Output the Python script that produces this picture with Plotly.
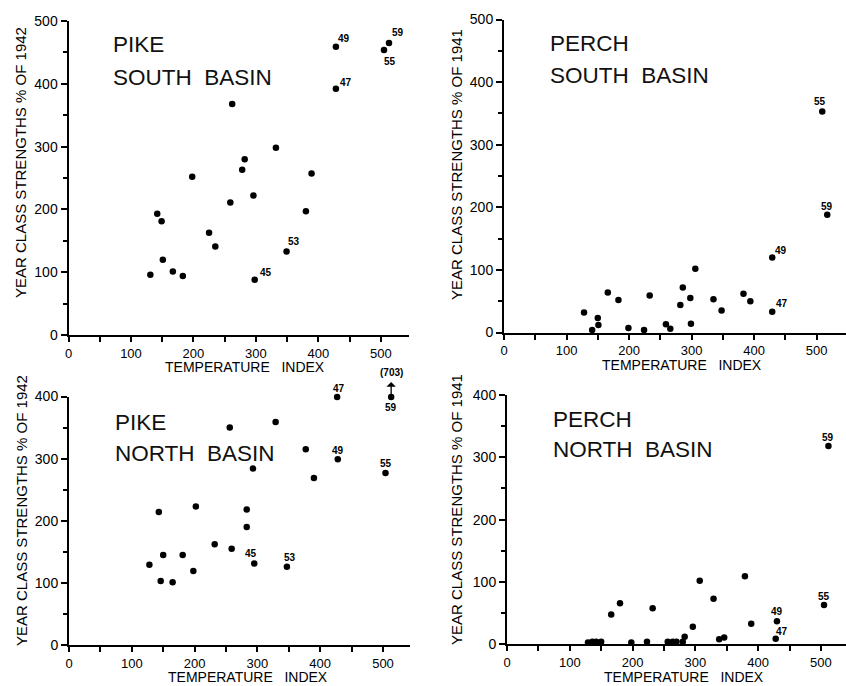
import plotly.graph_objects as go

W, H = 846, 686

# ---------------- data ----------------
pike_south_x = [131, 142, 149, 151, 167, 183, 198, 225, 235, 259, 262, 278, 282, 296, 298, 332, 349, 380, 389, 428, 428, 505, 513]
pike_south_y = [96, 193, 181, 120, 101, 94, 252, 163, 141, 211, 368, 263, 280, 222, 88, 298, 133, 197, 257, 459, 392, 454, 465]
pike_south_lab = {14: "45", 16: "53", 19: "49", 20: "47", 21: "55", 22: "59"}

perch_south_x = [128, 141, 150, 151, 166, 183, 199, 224, 233, 259, 266, 282, 286, 298, 299, 306, 335, 348, 383, 394, 429, 429, 509, 517]
perch_south_y = [32, 4, 23, 12, 64, 52, 7, 4, 59, 13, 6, 44, 72, 55, 14, 102, 53, 35, 62, 50, 120, 33, 353, 188]
perch_south_lab = {20: "49", 21: "47", 22: "55", 23: "59"}

# 1959 value (703) is off scale and plotted at the top of the axis
pike_north_x = [128, 143, 146, 150, 165, 181, 198, 202, 232, 256, 259, 283, 283, 293, 295, 329, 347, 377, 390, 427, 428, 504, 513]
pike_north_y = [129, 214, 103, 145, 101, 145, 119, 223, 162, 350, 155, 218, 190, 284, 131, 359, 126, 315, 269, 399, 299, 277, 399]
pike_north_lab = {14: "45", 16: "53", 19: "47", 20: "49", 21: "55", 22: "59"}
pike_north_offscale_index = 22
pike_north_offscale_text = "(703)"

perch_north_x = [129, 136, 142, 150, 166, 180, 198, 223, 232, 256, 264, 270, 280, 283, 296, 307, 329, 338, 346, 379, 389, 430, 428, 505, 512]
perch_north_y = [3, 4, 4, 4, 48, 66, 3, 4, 58, 4, 4, 4, 4, 12, 28, 102, 73, 8, 11, 109, 33, 37, 9, 63, 318]
perch_north_lab = {21: "49", 22: "47", 23: "55", 24: "59"}

x_ticks = [0, 100, 200, 300, 400, 500]
x_minor = [50, 150, 250, 350, 450, 550]
x_title = "TEMPERATURE&nbsp;&nbsp; INDEX"

# ---------------- layout helpers ----------------
def fx(px):
    return px / W

def fy(py):
    return 1 - py / H

# label offsets (px) per label text, per panel
off1 = {"45": (11, 7), "53": (7, 10), "49": (8, 8), "47": (10, 6), "55": (6, -12), "59": (9, 10)}
off2 = {"49": (9, 7), "47": (10, 8), "55": (-2, 10), "59": (0, 8)}
off3 = {"45": (-3, 10), "53": (3, 9), "47": (2, 9), "49": (0, 9), "55": (0, 9), "59": (0, -10)}
off4 = {"49": (0, 10), "47": (6, 7), "55": (0, 9), "59": (0, 9)}

NAME_FONT = "Liberation Sans, Arial, sans-serif"

panels = [
    dict(x=pike_south_x, y=pike_south_y, lab=pike_south_lab, off=off1,
         xd=(68.5, 409), yd=(335, 21), xr=545, yr=500,
         name=("PIKE", "SOUTH\u00a0 BASIN"), name_pos=(111, 45, 77),
         ytitle="YEAR CLASS STRENGTHS % OF 1942", ytpos=(20, 163), xtpos=(245, 367)),
    dict(x=perch_south_x, y=perch_south_y, lab=perch_south_lab, off=off2,
         xd=(504, 846), yd=(332.5, 19.5), xr=547, yr=500,
         name=("PERCH", "SOUTH\u00a0 BASIN"), name_pos=(548, 44, 75),
         ytitle="YEAR CLASS STRENGTHS % OF 1941", ytpos=(456, 165), xtpos=(682, 365)),
    dict(x=pike_north_x, y=pike_north_y, lab=pike_north_lab, off=off3,
         xd=(69, 410), yd=(645, 396.5), xr=543, yr=400,
         name=("PIKE", "NORTH\u00a0 BASIN"), name_pos=(113, 422, 453),
         ytitle="YEAR CLASS STRENGTHS % OF 1942", ytpos=(21, 511), xtpos=(248, 677)),
    dict(x=perch_north_x, y=perch_north_y, lab=perch_north_lab, off=off4,
         xd=(507, 846), yd=(644.3, 395), xr=540, yr=400,
         name=("PERCH", "NORTH\u00a0 BASIN"), name_pos=(551, 419, 449),
         ytitle="YEAR CLASS STRENGTHS % OF 1941", ytpos=(456, 510), xtpos=(684, 677)),
]

TICKFONT = dict(family="Liberation Sans, Arial, sans-serif", size=13, color="black")
fig = go.Figure()
annotations = []
layout = dict(
    width=W, height=H, margin=dict(l=0, r=0, t=0, b=0, autoexpand=False),
    paper_bgcolor="white", plot_bgcolor="white", showlegend=False,
)

for i, p in enumerate(panels, start=1):
    xa = "x" if i == 1 else f"x{i}"
    ya = "y" if i == 1 else f"y{i}"
    fig.add_trace(go.Scatter(
        x=p["x"], y=p["y"], mode="markers", xaxis=xa, yaxis=ya,
        marker=dict(size=6.5, color="black"), cliponaxis=False, hoverinfo="skip"))
    layout["xaxis" if i == 1 else f"xaxis{i}"] = dict(
        domain=[fx(p["xd"][0]), fx(p["xd"][1])], range=[0, p["xr"]], anchor=ya,
        showline=True, linewidth=2, linecolor="black", showgrid=False, zeroline=False,
        ticks="outside", ticklen=5, tickwidth=1.5, tickcolor="black",
        tickvals=x_ticks, tickfont=TICKFONT, automargin=False,
        minor=dict(tickvals=x_minor, ticks="outside", ticklen=5, tickwidth=1.5, tickcolor="black"),
        fixedrange=True)
    layout["yaxis" if i == 1 else f"yaxis{i}"] = dict(
        domain=[fy(p["yd"][0]), fy(p["yd"][1])], range=[0, p["yr"]], anchor=xa,
        showline=True, linewidth=2, linecolor="black", showgrid=False, zeroline=False,
        ticks="outside", ticklen=6, tickwidth=1.5, tickcolor="black",
        dtick=100, tickfont=dict(TICKFONT, size=14), ticklabelstandoff=0, automargin=False,
        minor=dict(dtick=50, ticks="outside", ticklen=4, tickwidth=1.5, tickcolor="black"),
        fixedrange=True)

    # year labels
    for idx, txt in p["lab"].items():
        dx, dy = p["off"][txt]
        annotations.append(dict(
            x=p["x"][idx], y=p["y"][idx], xref=xa, yref=ya, text=f"<b>{txt}</b>",
            showarrow=False, xshift=dx, yshift=dy,
            font=dict(family="Liberation Sans, Arial, sans-serif", size=10, color="black")))

    # panel name
    nx, ny1, ny2 = p["name_pos"]
    for txt, ny in zip(p["name"], (ny1, ny2)):
        annotations.append(dict(
            x=fx(nx), y=fy(ny), xref="paper", yref="paper", text=txt, showarrow=False,
            xanchor="left", yanchor="middle",
            font=dict(family=NAME_FONT, size=22.5, color="#111")))

    # axis titles
    tx, ty = p["ytpos"]
    annotations.append(dict(
        x=fx(tx), y=fy(ty), xref="paper", yref="paper", text=p["ytitle"], showarrow=False,
        textangle=-90, xanchor="center", yanchor="middle",
        font=dict(family="Liberation Sans, Arial, sans-serif", size=15, color="black")))
    tx, ty = p["xtpos"]
    annotations.append(dict(
        x=fx(tx), y=fy(ty), xref="paper", yref="paper", text=x_title, showarrow=False,
        xanchor="center", yanchor="middle",
        font=dict(family="Liberation Sans, Arial, sans-serif", size=14, color="black")))

# off-scale marker in pike north panel
k = pike_north_offscale_index
annotations.append(dict(
    x=pike_north_x[k], y=pike_north_y[k], xref="x3", yref="y3", text="",
    showarrow=True, arrowhead=1, arrowsize=1.2, arrowwidth=1.3, arrowcolor="black",
    ax=0, ay=14, yshift=15))
annotations.append(dict(
    x=pike_north_x[k], y=pike_north_y[k], xref="x3", yref="y3",
    text=f"<b>{pike_north_offscale_text}</b>", showarrow=False, yshift=25,
    font=dict(family="Liberation Sans, Arial, sans-serif", size=10, color="black")))

layout["annotations"] = annotations
fig.update_layout(**layout)
fig.write_html("out.html", config={"displayModeBar": False},
               post_script="document.body.style.margin='0';document.body.style.overflow='hidden';")
